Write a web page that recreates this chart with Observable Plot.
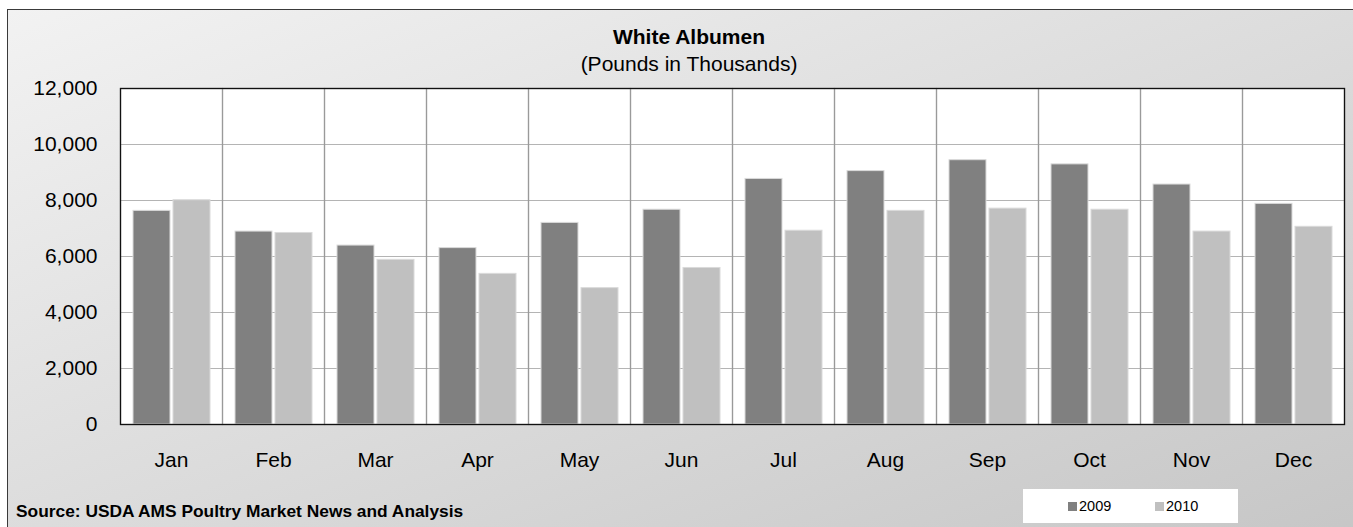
<!DOCTYPE html>
<html>
<head>
<meta charset="utf-8">
<script src="https://cdn.jsdelivr.net/npm/d3@7"></script>
<script src="https://cdn.jsdelivr.net/npm/@observablehq/plot@0.6"></script>
<style>
  html, body { margin: 0; padding: 0; background: #ffffff; }
  #wrap { position: relative; width: 1353px; height: 527px; overflow: hidden; font-family: "Liberation Sans", Arial, sans-serif; color: #000; }
  #box { position: absolute; left: 7px; top: 9px; width: 1360px; height: 530px; box-sizing: border-box;
         border-left: 1px solid #3a3a3a; border-top: 1px solid #3a3a3a;
         background: linear-gradient(to bottom right, #f2f2f2 0%, #dcdcdc 50%, #c6c6c6 100%); }
  #chart { position: absolute; left: 0; top: 0; }
  #titles { position: absolute; left: 489px; width: 400px; top: 26px; text-align: center; font-size: 21px; line-height: 21px; }
  #titles .t { font-weight: bold; }
  #titles .s { margin-top: 6px; }
  #source { position: absolute; left: 16px; top: 503px; font-size: 17.35px; line-height: 17px; font-weight: bold; white-space: nowrap; }
  #legend { position: absolute; left: 1023px; top: 489px; width: 215px; height: 34px; background: #ffffff; font-size: 14.5px; }
  #legend .item { position: absolute; top: 9px; line-height: 16px; white-space: nowrap; }
  #legend .sw { display: inline-block; width: 9px; height: 9px; margin-right: 2px; vertical-align: 0px; }
</style>
</head>
<body>
<div id="wrap">
  <div id="box"></div>
  <div id="chart"></div>
  <div id="titles"><div class="t">White Albumen</div><div class="s">(Pounds in Thousands)</div></div>
  <div id="source">Source: USDA AMS Poultry Market News and Analysis</div>
  <div id="legend"></div>
</div>
<script>
// ---- data ----
const months = ["Jan", "Feb", "Mar", "Apr", "May", "Jun", "Jul", "Aug", "Sep", "Oct", "Nov", "Dec"];
const years = ["2009", "2010"];
const values2009 = [7630, 6890, 6390, 6300, 7200, 7670, 8770, 9050, 9440, 9290, 8570, 7880];
const values2010 = [8010, 6840, 5880, 5380, 4870, 5590, 6920, 7630, 7710, 7670, 6890, 7060];
const yTicks = [0, 2000, 4000, 6000, 8000, 10000, 12000];
const seriesColors = ["#808080", "#c0c0c0"];

const data = [];
months.forEach((m, i) => {
  data.push({month: m, year: years[0], value: values2009[i]});
  data.push({month: m, year: years[1], value: values2010[i]});
});

const chart = Plot.plot({
  width: 1353,
  height: 527,
  marginLeft: 120,
  marginRight: 9,
  marginTop: 88,
  marginBottom: 103,
  style: {background: "transparent", fontFamily: "'Liberation Sans', Arial, sans-serif", fontSize: "21px", color: "#000", overflow: "visible"},
  fx: {domain: months, padding: 0, label: null, axis: "bottom", tickSize: 0, tickPadding: 28},
  x: {domain: years, paddingInner: 0.075, paddingOuter: 0.3125, axis: null},
  y: {domain: [0, 12000], ticks: yTicks, tickFormat: d3.format(","), label: null, tickSize: 0, tickPadding: 23},
  color: {domain: years, range: seriesColors},
  marks: [
    Plot.frame({fill: "#ffffff", stroke: "none"}),
    Plot.gridY(yTicks, {stroke: "#b4b4b4", strokeOpacity: 1, strokeWidth: 1.2}),
    Plot.frame({stroke: "#9a9a9a", strokeWidth: 1.2}),
    Plot.barY(data, {fx: "month", x: "year", y: "value", fill: "year", stroke: "#dadada", strokeWidth: 1}),
    Plot.frame({stroke: "#111111", strokeWidth: 1.3, facet: "super"})
  ]
});
document.getElementById("chart").appendChild(chart);

// legend
const legend = document.getElementById("legend");
const legendLeft = [45, 132];
years.forEach((y, i) => {
  const it = document.createElement("div");
  it.className = "item";
  it.style.left = legendLeft[i] + "px";
  const sw = document.createElement("span");
  sw.className = "sw";
  sw.style.background = seriesColors[i];
  it.appendChild(sw);
  it.appendChild(document.createTextNode(y));
  legend.appendChild(it);
});
</script>
</body>
</html>
